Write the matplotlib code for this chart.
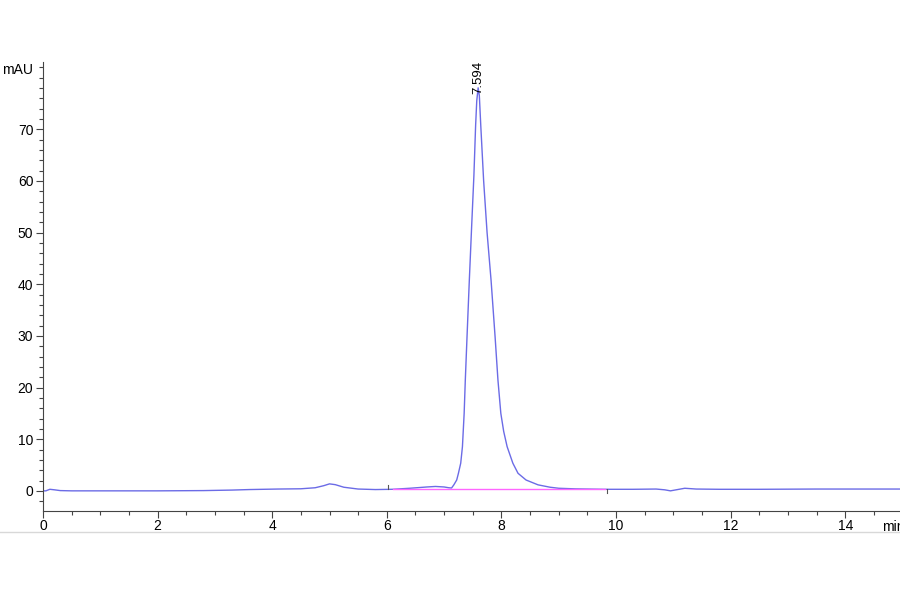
import matplotlib
matplotlib.use('Agg')
import matplotlib.pyplot as plt
from matplotlib.lines import Line2D
from matplotlib.ticker import MultipleLocator

plt.rcParams['font.family'] = ['Liberation Sans', 'DejaVu Sans']

# trace (min, mAU)
time = [0.0, 0.05, 0.12, 0.2, 0.3, 0.5, 1.0, 2.0, 2.8, 3.3, 3.6, 4.1, 4.5,
        4.75, 4.9, 5.0, 5.1, 5.25, 5.5, 5.8, 6.1, 6.4, 6.7, 6.85, 7.0, 7.08,
        7.13, 7.17, 7.22, 7.25, 7.29, 7.32, 7.35, 7.37, 7.40, 7.44, 7.48,
        7.52, 7.55, 7.57, 7.594, 7.615, 7.64, 7.69, 7.75, 7.82, 7.89, 7.94,
        7.99, 8.04, 8.10, 8.20, 8.29, 8.43, 8.64, 8.85, 9.0, 9.3, 9.8, 10.3,
        10.7, 10.85, 10.95, 11.05, 11.2, 11.4, 11.8, 12.5, 13.5, 15.0]
signal = [0.0, 0.0, 0.3, 0.2, 0.05, 0.0, 0.0, 0.0, 0.05, 0.15, 0.25, 0.35, 0.4,
          0.6, 1.0, 1.35, 1.2, 0.7, 0.35, 0.25, 0.3, 0.5, 0.75, 0.85, 0.75, 0.6,
          0.55, 1.16, 2.1, 3.4, 5.35, 8.55, 15.0, 21.4, 29.8, 40.7, 51.0,
          61.0, 70.7, 75.5, 78.0, 76.5, 70.7, 60.0, 50.0, 40.7, 29.8, 21.4,
          15.0, 11.5, 8.55, 5.35, 3.4, 2.1, 1.16, 0.7, 0.5, 0.38, 0.3, 0.3,
          0.35, 0.2, 0.0, 0.2, 0.5, 0.35, 0.3, 0.3, 0.35, 0.35]

# integration baseline
base_t = [6.1, 9.8]
base_y = [0.3, 0.3]
peak_rt = 7.594
peak_h = 78.0

fig = plt.figure(figsize=(9, 5.94), dpi=100)
ax = fig.add_axes([43/900, 83/594, 859.5/900, 449/594])

ax.plot(time, signal, color='#6b6be6', lw=1.0)
ax.plot(base_t, base_y, color='#ff66ff', lw=1.0)
# baseline start / end marks
ax.plot([base_t[0]-0.08, base_t[0]-0.08], [base_y[0], base_y[0]+0.8], color='#555555', lw=0.8)
ax.plot([base_t[1]+0.04, base_t[1]+0.04], [base_y[1], base_y[1]-0.8], color='#555555', lw=0.8)

ax.text(peak_rt, peak_h - 1.2, '%.3f' % peak_rt, rotation=90, ha='center', va='bottom',
        fontsize=9.5)

ax.set_xlim(0, 15)
ax.set_ylim(-3.9, 83)
ax.xaxis.set_major_locator(MultipleLocator(2))
ax.xaxis.set_minor_locator(MultipleLocator(0.5))
ax.yaxis.set_major_locator(MultipleLocator(10))
ax.yaxis.set_minor_locator(MultipleLocator(2))
ax.tick_params(which='major', length=5, width=0.8, color='#444444', labelsize=10)
ax.tick_params(which='minor', length=3.2, width=0.8, color='#444444')
ax.tick_params(axis='x', which='major', pad=1)
ax.tick_params(axis='y', which='major', pad=2)
ax.set_yticks([0, 10, 20, 30, 40, 50, 60, 70])
ax.set_xticks([0, 2, 4, 6, 8, 10, 12, 14])

for s in ['top', 'right']:
    ax.spines[s].set_visible(False)
for s in ['left', 'bottom']:
    ax.spines[s].set_color('#444444')
    ax.spines[s].set_linewidth(0.8)

fig.text(33/900, 1 - 70/594, 'mAU', ha='right', va='center', fontsize=10)
fig.text(882/900, 1 - 527/594, 'min', ha='left', va='center', fontsize=10)

fig.add_artist(Line2D([0, 1], [1 - 532/594, 1 - 532/594], color='#d8d8d8', lw=1))

fig.savefig('out.png', dpi=100)
